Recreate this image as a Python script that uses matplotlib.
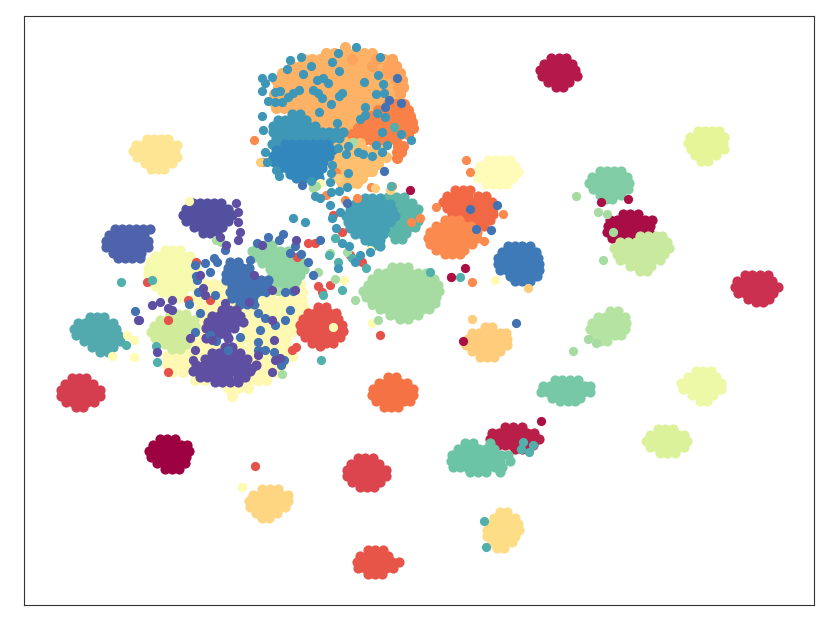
import matplotlib
matplotlib.use("Agg")
import matplotlib.pyplot as plt

# Point positions, row by row: {y: [x, x, ...]}
pale_big = {284:[205,214,224,290,300],292:[198,207,216,225,234,262,272,282,292,302],300:[190,199,208,217,226,235,250,262,272,282,292,302],
 308:[200,209,218,227,236,245,255,265,275,285,295,304],316:[200,209,218,250,259,268,277,286,295,304],324:[205,246,255,264,273,282,291,298],
 332:[200,246,255,264,273,282,291],340:[195,204,240,250,259,268,277,286],348:[188,197,206,215,240,250,259,268,277,286],
 356:[167,175,183,192,201,250,259,268,277,286,292],364:[167,178,187,255,264,273,282],372:[172,183,250,259,268,276],380:[195,205,230,240,250,258,266],388:[228,238,248],396:[232]}
orange_big = {47:[345],53:[326,334,345,354,364,372],59:[304,312,320,328,336,344,352,360,368,376,384,392],
 66:[292,300,308,316,324,332,340,348,356,364,372,380,388,396],
 73:[282,290,298,306,314,322,330,338,346,354,362,370,378,386,394,400],
 80:[276,284,292,300,308,316,324,332,340,348,356,364,372,380,388,396,402],
 87:[278,286,294,302,310,318,326,334,342,350,358,366,374,382,390,398,403],
 94:[274,282,290,298,306,314,322,330,338,346,354,362,370,378,386,394,400],
 101:[272,280,288,296,304,312,320,328,336,344,352,360,368,376,384],
 108:[276,284,292,300,308,316,324,332,340,348,356,364,372],
 115:[300,308,316,324,332,340,348,356,364],122:[310,318,326,334,342,350,358],129:[320,328,336,344,352],136:[335,345,352]}
orange_mid = {59:[352,376,392],66:[372,388,396],73:[386,394,400],80:[396,402],87:[398,403],94:[400]}
orange_dark = {104:[388,396,404],110:[378,386,394,402,408],116:[370,378,386,394,402,410],
 122:[364,372,380,388,396,404,412],128:[358,366,374,382,390,398,406,413],134:[352,360,368,376,384,392,400,408],
 140:[356,364,372,380,388,396],146:[398,403],152:[397,401],158:[397]}
orange_light = {143:[336,344,352,360],150:[332,340,348,356,364,372,380],157:[332,340,348,356,364,372,380,386],
 164:[332,340,348,356,364,372,378],171:[336,344,352,360,368,372],178:[338,346,354,362],183:[342,350,357]}
teal_blue = {114:[292,300],120:[278,285,292,299,306],126:[273,280,287,294,301,308,315],
 132:[273,280,287,294,301,308,315,322,329,336,343],138:[276,283,290,297,304,311,318,325,332,339],
 144:[272,279,286,293,300,307,314,321,328]}
blue_top = {144:[285,292,299,306,313,320,327],150:[276,283,290,297,304,311,318,325,332],
 156:[273,280,287,294,301,308,315,322,329],162:[274,281,288,295,302,309,316,323],
 168:[280,287,294,301,308,316,322],174:[290,297,304,311,318],178:[296,304,312,319]}
crimson_a = {58:[551,559,566],64:[544,551,558,565,572],70:[540,547,554,561,568,575],76:[542,549,556,563,570,577],82:[548,555,562,569],87:[556,563]}
lime_a = {131:[698,705,712,719],137:[690,697,704,711,718,724],143:[688,695,702,709,716,723],149:[691,698,705,712,719,724],155:[695,702,709,716],161:[701,708]}
pale_orange = {139:[147,154,161,168],145:[136,143,150,157,164,171,177],151:[133,140,147,154,161,168,175],157:[137,144,151,158,165,172,177],163:[145,152,159,166,172],169:[151,158,164]}
green_a = {171:[600,607,614,621],177:[592,599,606,613,620,627],183:[589,596,603,610,617,624,629],189:[593,600,607,614,621,628],195:[600,607,614,621],199:[606,612]}
dark_red = {214:[623,630,638],220:[610,617,624,631,638,645,652],226:[608,615,622,629,636,643,650],232:[607,614,621,628,635,642,649],238:[612,620,628,636]}
light_green_a = {236:[640,648,656,662],242:[620,628,636,644,652,660,667],248:[614,622,630,638,646,654,662,669],254:[617,624,632,640,648,656,664],260:[620,628,636,644,652,660],266:[630,637,644,651],271:[640,647]}
crimson_b = {275:[745,752,760,768],281:[737,744,751,758,765,772],287:[735,742,749,756,763,770,778],293:[738,745,752,759,766,773],299:[748,755,762,769],302:[756,763]}
indigo_a = {203:[193,200,207,214,221],209:[186,193,200,207,214,221,228],215:[183,190,197,204,211,218,225,232],221:[186,193,200,207,214,221,228],227:[194,201,208,215,222],233:[203,210,217]}
indigo_b = {229:[115,122,129,136,143,150],235:[109,116,123,130,137,144],241:[106,113,120,127,134,141,148],247:[106,113,120,127,134,141,148],253:[113,120,127,134,141],258:[118,125,132,140]}
pale_a = {250:[165,172,180],256:[155,162,169,176,183,190],262:[150,157,164,171,178,185,192],268:[148,155,162,169,176,183,190,196],274:[148,155,162,169,176,183,190,196],280:[150,157,164,171,178,185,192],286:[155,162,169,176,183,190],292:[162,169,176,183],298:[170,178]}
green_b = {245:[258,265,272],251:[252,259,266,273,280,288],257:[255,262,269,276,283,290,297],263:[262,269,276,283,290,297,303],269:[270,277,284,291,298,304],275:[272,279,286,293,300],281:[275,282,289,296],287:[280,287,294]}
blue_b = {262:[230,238],268:[228,235,242,249],274:[226,233,240,247],280:[226,233,240,247,254,261,268],286:[232,239,246,253,260,267],292:[230,237,244,251,258,265],298:[232,239,246,253,260],304:[240,247,254]}
teal_a = {317:[90,97,104],323:[78,85,92,99,106,113],329:[74,81,88,95,102,109,116],335:[76,83,90,97,104,111,118],341:[84,91,98,105,112,120],347:[92,99,106,113],352:[100,108]}
light_green_b = {314:[170,178,186],320:[160,167,174,181,188,194],326:[154,161,168,175,182,189,195],332:[151,158,165,172,179,186,193],338:[155,162,169,176,183,190],344:[165,172,179,186],349:[172,180]}
purple_a = {310:[222,229,236],316:[212,219,226,233,240],322:[208,215,222,229,236,243],328:[206,213,220,227,234],334:[212,219,226],338:[206,228]}
purple_b = {347:[225,232],353:[212,219,226,233,240],359:[205,212,219,226,233,240,247],365:[196,204,211,218,225,232,239,246,256],371:[193,200,207,214,221,228,235,242,250],377:[200,207,214,221,228,238,245],382:[215,222,230,238]}
red_a = {307:[318,326],313:[308,315,322,329,336],319:[303,310,317,324,331,338],325:[300,307,314,321,328,335,342],331:[301,308,315,322,329,336,343],337:[305,312,319,326,333,340],343:[312,319,326,333],346:[320]}
seagreen = {197:[388,396,404],203:[385,392,399,406,412],209:[392,399,406,413,418],215:[395,402,409,416],221:[398,405,412,418],227:[395,402,409,415],233:[392,399,406],239:[395,402]}
teal_b = {198:[365,372,380],204:[355,362,369,376,383,390],210:[350,357,364,371,378,385,392],216:[346,353,360,367,374,381,388,395],222:[348,355,362,369,376,383,390],228:[350,357,364,371,378,385],234:[355,362,369,376,383],240:[365,372,380],246:[372,380]}
light_green_c = {267:[392,400,408],273:[378,386,394,402,410,418,426],279:[372,379,386,393,400,407,414,421,428,434],285:[368,375,382,389,396,403,410,417,424,431,438],291:[363,370,377,384,391,398,405,412,419,426,433,439],297:[366,373,380,387,394,401,408,415,422,429,436],303:[372,379,386,393,400,407,414,421,428,435],309:[380,387,394,401,408,415,422,429],315:[390,397,404,411,418],319:[400,408]}
orange_red = {190:[455,463,470],196:[447,454,461,468,478,486],202:[443,450,457,464,471,478,485,492],208:[447,454,461,468,475,482,489,493],214:[452,459,466,473,480,487,493],220:[462,469,476,483,490],226:[470,477,484]}
orange_a = {220:[445,452,459],226:[436,443,450,457,464,471],232:[430,437,444,451,458,465,472,477],238:[428,435,442,449,456,463,470,477],244:[430,437,444,451,458,465,472],250:[436,443,450,457,464],254:[445,452,460]}
pale_b = {160:[488,495,502,510],166:[480,487,494,501,508,515],172:[477,484,491,498,505,512,518],178:[478,485,492,499,506,513],184:[486,493,500,507]}
blue_c = {246:[508,515,522,530],252:[502,509,516,523,530,536],258:[498,505,512,519,526,533,538],264:[498,505,512,519,526,533,539],270:[500,507,514,521,528,535,539],276:[510,517,524,531,537],281:[515,522,530]}
light_orange = {327:[485,492],333:[472,479,486,493,500,506],339:[468,475,482,489,496,503,507],345:[466,473,480,487,494,501,507],351:[472,479,486,493,500],357:[480,487,494]}
light_green_d = {311:[610,618],317:[598,605,612,619,625],323:[592,599,606,613,620,626],329:[590,597,604,611,618,625],335:[594,601,608,615,621],341:[600,607]}
mint_a = {380:[555,562,570,578],386:[543,550,557,564,571,578,585,590],392:[541,548,555,562,569,576,583,590],398:[552,559,566,573,580],401:[560,568,575]}
lime_b = {371:[696,703,711],377:[688,695,702,709,716],383:[681,688,695,702,709,716,721],389:[683,690,697,704,711,718,721],395:[692,699,706,713],401:[700,707]}
lime_c = {429:[658,665,673],435:[650,657,664,671,678,684],441:[646,653,660,667,674,681,687],447:[650,657,664,671,678,684],453:[660,667,675]}
red_b = {378:[72,79,86],384:[65,72,79,86,93],390:[61,68,75,82,89,96,100],396:[61,68,75,82,89,96,100],402:[66,73,80,87,94],407:[76,83]}
maroon = {439:[160,167,175],445:[153,160,167,174,181,187],451:[149,156,163,170,177,184,189],457:[151,158,165,172,179,186],463:[157,164,171,178,185],469:[165,172,179]}
orange_b = {377:[388,396],383:[379,386,393,400,407],389:[373,380,387,394,401,408,413],395:[372,379,386,393,400,407,413],401:[376,383,390,397,404,410],407:[384,391,398]}
crimson_c = {427:[505,513,522],433:[492,499,506,513,520,527,534],439:[490,497,504,511,518,525,532,539],445:[498,505,512,519,526,533],449:[515,522]}
mint_b = {443:[465,473,490],449:[458,465,472,479,486,494],455:[452,459,466,473,480,487,494,501,508],461:[451,458,465,472,479,486,493,500,510],467:[453,460,467,474,481,488,495,502],472:[470,478,486,500]}
red_c = {458:[358,365,373],464:[351,358,365,372,379],470:[347,354,361,368,375,382,386],476:[347,354,361,368,375,382,386],482:[352,359,366,373,380],487:[360,367,374]}
yellow_a = {489:[262,270,278],495:[253,260,267,274,281,288],501:[249,256,263,270,277,284,288],507:[250,257,264,271,278,285],513:[256,263,270,277],518:[262,269]}
yellow_b = {512:[500,507],518:[494,501,508,515],524:[490,497,504,511,518],530:[487,494,501,508,515,519],536:[487,494,501,508,515],542:[492,499,506,512],548:[497,504]}
red_d = {550:[368,375,383],556:[360,367,374,381,388],562:[357,364,371,378,385,392,399],568:[358,365,372,379,386,393],574:[368,375,382]}

# Stray points (x, y)
stray_red = [(255,466),(333,215),(315,243),(342,232),(330,285),(322,292),(318,286),(297,257),(196,262),(147,282),(168,320),(188,300),(308,243),(210,300),(168,372),(292,350),(296,347),(362,262),(380,335),(350,255)]
stray_orange = [(254,140),(263,162),(336,172),(326,195),(345,200),(357,198),(371,187),(392,186),(411,222),(420,218),(436,207),(503,214),(472,282),(466,160),(470,172),(484,241),(451,277)]
stray_pale = [(242,487),(333,327),(372,323),(495,280),(320,183),(370,250),(344,280),(189,201),(134,357),(134,340),(127,335),(112,356),(262,300)]
stray_yellow = [(472,319),(528,288),(260,162),(375,188),(390,190),(338,178)]
stray_green = [(576,196),(573,351),(598,212),(607,214),(603,260),(613,232),(353,142),(313,188),(316,186),(347,252),(330,253),(355,300),(372,305),(378,320),(335,279),(318,272),(216,240),(221,242),(278,291),(282,374),(596,343),(588,339)]
stray_crimson = [(628,199),(601,202),(541,421),(463,341),(410,190),(451,277),(465,268)]
stray_teal = [(484,521),(486,547),(523,442),(533,445),(521,449),(529,452),(391,186),(460,277),(152,280),(121,282),(157,362),(126,345),(156,346),(335,238),(329,255),(338,262),(352,258),(366,268),(342,290),(430,272),(394,127),(323,295),(321,360)]
stray_teal_blue = [(262,78),(272,77),(265,83),(262,91),(275,92),(280,91),(268,101),(275,102),(282,102),(288,97),(293,93),(299,90),(290,60),(301,57),(311,66),(287,69),(303,74),(317,80),(323,78),(328,83),(313,90),(318,93),(322,98),(339,96),(342,93),(331,104),(319,112),(332,62),(338,53),(356,47),(380,57),(339,71),(364,82),(378,75),(383,84),(384,93),(376,94),(365,107),(377,113),(385,117),(360,119),(365,115),(382,132),(401,134),(411,140),(262,116),(263,130),(337,123),(338,148),(348,146),(346,154),(358,152),(363,154),(372,156),(376,145),(382,152),(387,145),(265,152),(267,162),(276,170),(279,176),(311,181),(332,165),(331,173),(330,182),(348,173),(347,187),(331,192),(339,191),(315,196),(293,218),(305,222),(320,198),(330,205),(340,212),(332,218),(336,228),(342,243),(349,246),(370,252),(338,268),(355,262),(360,255)]
stray_blue = [(397,78),(401,103),(389,100),(385,107),(302,185),(384,171),(320,240),(347,203),(470,209),(497,205),(491,230),(476,229),(516,323),(257,243),(268,237),(283,234),(279,240),(295,246),(290,253),(301,254),(308,262),(313,275),(285,292),(293,291),(250,260),(243,268),(196,276),(195,265),(197,280),(205,263),(217,262),(214,258),(210,272),(225,250),(236,270),(200,313),(189,304),(135,311),(198,292),(215,295),(258,313),(265,318),(275,325),(260,330),(285,320),(290,310),(274,352),(258,350),(284,360),(281,365),(210,335),(195,332),(216,341),(240,337),(228,350),(258,342),(265,350)]
stray_indigo = [(160,302),(152,305),(168,308),(172,300),(139,320),(138,320),(172,310),(238,212),(236,203),(238,222),(220,237),(226,245),(238,240),(240,232),(262,245),(296,240),(200,275),(203,288),(205,295),(208,322),(254,275),(249,302),(272,290),(295,290),(274,340),(258,355),(280,358),(275,360),(252,368),(247,372),(272,372),(190,338),(195,350),(193,360),(157,352),(212,340),(217,320),(225,303),(272,320)]

LAYERS = [
 (pale_big,"#fff8b2"),(red_a,"#e4524b"),(green_b,"#90d4a4"),(pale_a,"#f6faaf"),(light_green_b,"#d0ec9b"),
 (teal_a,"#52a9ae"),(indigo_b,"#4e63ab"),(indigo_a,"#53509f"),(blue_b,"#4272b2"),(purple_a,"#5e4fa2"),(purple_b,"#5e4fa2"),
 (crimson_a,"#b5184a"),(lime_a,"#e6f598"),(pale_orange,"#fee593"),(green_a,"#80cda5"),(dark_red,"#a80d45"),(light_green_a,"#c8e99e"),
 (crimson_b,"#cc3050"),(orange_big,"#fdb265"),(orange_mid,"#fda35c"),(orange_dark,"#f98046"),(orange_light,"#fec06f"),(teal_blue,"#3f97b7"),(blue_top,"#3288bd"),
 (light_green_c,"#a6dca2"),(orange_red,"#f26844"),(orange_a,"#fb8a4f"),(seagreen,"#5bb5a9"),(teal_b,"#459fb5"),(pale_b,"#fffbb8"),(blue_c,"#3e7ab7"),
 (light_orange,"#fecc7b"),(light_green_d,"#b5e3a1"),(mint_a,"#76c8a6"),(lime_b,"#edf9a6"),(lime_c,"#dcf29a"),(red_b,"#d53e4f"),(maroon,"#9e0142"),
 (orange_b,"#f57245"),(crimson_c,"#b91e48"),(mint_b,"#6bc4a5"),(red_c,"#dc444e"),(yellow_a,"#fed681"),(yellow_b,"#fedd87"),(red_d,"#e65547"),
]
STRAYS = [(stray_red,"#e4524b"),(stray_orange,"#fb8a4f"),(stray_yellow,"#fecc7b"),(stray_pale,"#fffbb0"),(stray_green,"#a6dca2"),
 (stray_crimson,"#ab0d45"),(stray_teal,"#52b0ac"),(stray_teal_blue,"#3f97b7"),(stray_blue,"#4272b2"),(stray_indigo,"#5e4fa2")]

W, H = 831, 629
fig = plt.figure(figsize=(W/100, H/100), dpi=100)
L, R, T, B = 24, 814, 16, 605
ax = fig.add_axes([L/W, 1-B/H, (R-L)/W, (B-T)/H])
LOOSE = (pale_big, orange_big, orange_mid, orange_dark, orange_light)
for rows, color in LAYERS:
    xs = [x for y, row in rows.items() for x in row]
    ys = [y for y, row in rows.items() for x in row]
    ax.scatter(xs, ys, s=64 if any(rows is r for r in LOOSE) else 54, c=color, linewidths=0)
for pts, color in STRAYS:
    ax.scatter([p[0] for p in pts], [p[1] for p in pts], s=44, c=color, linewidths=0)
ax.set_xlim(L, R)
ax.set_ylim(B, T)
ax.set_xticks([])
ax.set_yticks([])
for s in ax.spines.values():
    s.set_color("#333333")
    s.set_linewidth(0.8)
fig.savefig("out.png", dpi=100)
